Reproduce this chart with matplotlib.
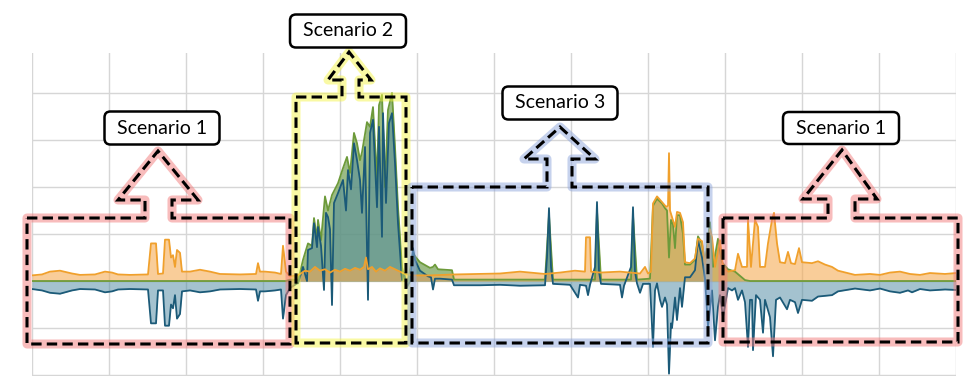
import numpy as np
import matplotlib.pyplot as plt
from matplotlib.patches import Polygon, FancyBboxPatch

# time axis in samples (one grid division = 77 samples), values in grid units
orange_t = [0, 10, 18, 28, 40, 48, 63, 73, 80, 86, 98, 116, 119, 124, 126, 131, 133, 137, 139, 141,
            143, 145, 148, 150, 158, 168, 178, 188, 208, 224, 226, 228, 233, 243, 249, 251, 254, 258, 265,
            268, 273, 278, 283, 288, 293, 298, 303, 308, 313, 318, 323, 328, 332, 334, 336, 340, 344, 348,
            353, 358, 363, 368, 373, 381, 398, 423, 448, 468, 488, 498, 513, 528, 543, 553, 554, 558, 559,
            568, 588, 608, 613, 616, 619, 621, 625, 630, 634, 636, 637, 638, 640, 643, 645, 648, 651, 653,
            658, 663, 666, 670, 673, 678, 680, 683, 688, 691, 696, 703, 706, 710, 715, 716, 719, 723, 726,
            728, 733, 736, 740, 742, 745, 748, 753, 756, 759, 763, 767, 770, 780, 786, 793, 800, 806, 823,
            838, 848, 858, 868, 878, 888, 898, 913, 924]
orange_v = [0.12, 0.14, 0.2, 0.22, 0.16, 0.13, 0.14, 0.2, 0.18, 0.14, 0.13, 0.14, 0.8, 0.8, 0.15, 0.16, 0.88, 0.88, 0.5, 0.55,
            0.3, 0.66, 0.6, 0.2, 0.2, 0.24, 0.2, 0.15, 0.14, 0.15, 0.38, 0.2, 0.2, 0.18, 0.15, 0.75, 0.2, 0.1, 0.12,
            0.15, 0.22, 0.2, 0.3, 0.22, 0.25, 0.18, 0.24, 0.2, 0.26, 0.22, 0.28, 0.24, 0.3, 0.5, 0.25, 0.3, 0.2, 0.27,
            0.22, 0.3, 0.25, 0.2, 0.15, 0.12, 0.12, 0.14, 0.15, 0.16, 0.2, 0.18, 0.15, 0.18, 0.22, 0.2, 0.93, 0.93, 0.2,
            0.18, 0.2, 0.16, 0.3, 0.16, 0.2, 1.65, 1.8, 1.68, 1.58, 1.6, 2.72, 1.5, 1.36, 1.15, 1.47, 1.45, 1.25, 0.4,
            0.38, 0.48, 0.9, 0.85, 0.35, 1.1, 0.93, 0.3, 0.87, 0.3, 0.2, 0.23, 0.58, 0.3, 0.3, 1.3, 0.3, 1.3, 1.15,
            0.3, 0.3, 0.8, 1.3, 1.45, 0.8, 0.4, 0.38, 0.62, 0.38, 0.36, 0.7, 0.4, 0.38, 0.42, 0.35, 0.3, 0.22, 0.13,
            0.15, 0.13, 0.18, 0.2, 0.15, 0.13, 0.17, 0.15, 0.17]

teal_t = [0, 10, 18, 28, 40, 48, 63, 73, 80, 86, 98, 116, 119, 124, 126, 131, 133, 137, 139, 141,
          143, 145, 148, 150, 158, 168, 178, 188, 208, 224, 226, 228, 233, 243, 249, 251, 254, 258, 265,
          266, 271, 275, 276, 280, 282, 285, 286, 289, 292, 294, 296, 298, 300, 302, 306, 311, 314, 316,
          319, 322, 325, 328, 330, 333, 336, 338, 341, 345, 347, 350, 351, 354, 357, 360, 363, 366, 370,
          372, 375, 378, 381, 383, 388, 396, 399, 401, 403, 408, 420, 422, 448, 468, 488, 513, 515, 517,
          519, 521, 538, 546, 548, 554, 556, 558, 563, 565, 567, 569, 588, 590, 592, 599, 601, 603, 605,
          608, 611, 618, 621, 623, 625, 628, 630, 633, 635, 637, 639, 640, 643, 645, 648, 650, 653, 658,
          663, 666, 670, 673, 676, 680, 683, 686, 688, 691, 696, 700, 703, 706, 710, 713, 716, 718, 720,
          721, 724, 728, 731, 733, 738, 741, 744, 748, 755, 758, 763, 766, 770, 780, 786, 800, 806, 823,
          838, 848, 858, 868, 876, 880, 888, 898, 913, 924]
teal_v = [-0.17, -0.2, -0.25, -0.27, -0.2, -0.17, -0.18, -0.24, -0.22, -0.18, -0.17, -0.18, -0.9, -0.9, -0.2, -0.2, -0.95, -0.95, -0.5, -0.58,
          -0.3, -0.8, -0.7, -0.22, -0.2, -0.24, -0.22, -0.18, -0.17, -0.18, -0.42, -0.22, -0.22, -0.2, -0.18, -0.8, -0.3, -0.15, -0.05,
          -0.05, 0.3, 0.0, 0.66, 0.7, 1.23, 0.72, 1.15, 0.75, -0.19, 1.45, 1.36, 1.1, -0.51, 1.66, 1.87, 2.15, 1.5, 2.36,
          1.95, 2.93, 2.57, 2.15, 1.45, 2.85, -0.4, 3.15, 3.43, 1.57, 3.28, 0.94, 3.57, 1.66, 3.36, 3.57, 2.51, 1.23, 0.02,
          0.17, -0.13, 0.0, 0.7, 0.45, 0.22, 0.1, 0.08, -0.18, 0.05, 0.05, 0.03, -0.09, -0.09, -0.08, -0.1, -0.09, 0.5, 1.55,
          0.3, -0.06, -0.08, -0.35, -0.08, -0.1, -0.3, -0.08, 0.3, 1.68, 0.2, -0.06, -0.08, -0.35, -0.1, 0.3, 1.57, 0.2, -0.05,
          -0.25, -0.06, -0.06, -1.4, -0.2, -0.05, -0.4, -0.55, -0.35, -0.5, -1.97, -0.9, -1.0, -0.35, -0.83, -0.15, -0.55, 0.08, 0.08,
          0.23, 0.87, 0.5, 0.05, -0.98, -0.2, -1.26, -0.55, -0.3, -0.77, -0.15, -0.2, -0.15, -0.4, -0.2, -0.45, -1.4, -0.4, -0.4,
          -1.47, -0.3, -0.4, -1.1, -0.4, -0.77, -1.6, -0.4, -0.35, -0.6, -0.4, -0.45, -0.68, -0.4, -0.42, -0.33, -0.3, -0.22, -0.16,
          -0.2, -0.16, -0.22, -0.25, -0.2, -0.24, -0.17, -0.2, -0.18, -0.19]

green_t = [0, 254, 258, 265, 266, 271, 276, 280, 282, 285, 286, 289, 293, 296, 300, 306, 311, 315, 318, 322,
           325, 328, 330, 335, 338, 341, 345, 347, 350, 353, 356, 360, 363, 366, 370, 373, 376, 381, 384, 388,
           398, 401, 403, 406, 413, 420, 422, 513, 517, 521, 563, 565, 569, 599, 601, 605, 618, 621, 625, 630,
           633, 635, 637, 639, 641, 643, 645, 648, 651, 653, 658, 663, 666, 670, 673, 678, 681, 686, 690, 696,
           703, 713, 718, 924]
green_v = [0.0, 0.0, 0.03, 0.02, 0.0, 0.45, 0.8, 0.75, 1.34, 0.9, 1.3, 0.87, 1.8, 1.5, 1.83, 2.08, 2.4, 2.64, 2.3, 3.15,
           2.93, 2.57, 2.74, 3.38, 3.28, 3.7, 2.15, 3.74, 3.96, 2.0, 3.64, 4.0, 2.85, 1.57, 0.3, 0.0, 0.0, 0.6, 0.5, 0.4,
           0.28, 0.3, 0.35, 0.25, 0.24, 0.23, 0.03, 0.03, 1.4, 0.03, 0.03, 1.5, 0.03, 0.03, 1.4, 0.03, 0.05, 1.6, 1.75, 1.65,
           1.55, 1.5, 0.5, 1.3, 1.2, 0.7, 1.4, 1.4, 1.0, 0.35, 0.35, 0.45, 0.95, 0.8, 0.4, 1.25, 0.3, 0.9, 0.4, 0.25,
           0.2, 0.02, 0.0, 0.0]

fig = plt.figure(figsize=(9.77, 3.76), dpi=100)
ax = fig.add_axes([32 / 977, 0, 924 / 977, 323 / 376])

ax.fill_between(green_t, green_v, 0, color="#7aa45c", alpha=0.75, lw=0)
ax.fill_between(teal_t, teal_v, 0, color="#4a87a0", alpha=0.5, lw=0)
ax.fill_between(orange_t, orange_v, 0, color="#f5ac55", alpha=0.6, lw=0)
ax.plot(green_t, green_v, color="#6d9a3a", lw=1.3)
ax.plot(teal_t, teal_v, color="#1b5a78", lw=1.3)
ax.plot(orange_t, orange_v, color="#f0a02c", lw=1.3)

ax.set_xlim(0, 924)
ax.set_ylim(-2.02, 4.85)
ax.set_xticks(np.arange(0, 925, 77))
ax.set_yticks(np.arange(-2, 5))
ax.grid(True, color="#d6d6d6", lw=1)
ax.set_axisbelow(True)
ax.tick_params(length=0, labelbottom=False, labelleft=False)
for s in ax.spines.values():
    s.set_visible(False)

# annotation layer in pixel coordinates
ov = fig.add_axes([0, 0, 1, 1])
ov.set_xlim(0, 977)
ov.set_ylim(376, 0)
ov.axis("off")
ov.patch.set_alpha(0)


def arrow_box(x0, x1, y0, y1, sx0, sx1, hy, hx0, hx1, tip, glow):
    verts = [(x0, y0), (sx0, y0), (sx0, hy), (hx0, hy), tip, (hx1, hy),
             (sx1, hy), (sx1, y0), (x1, y0), (x1, y1), (x0, y1)]
    ov.add_patch(Polygon(verts, closed=True, fill=False, ec=glow, lw=6.5, alpha=0.5, joinstyle="round"))
    ov.add_patch(Polygon(verts, closed=True, fill=False, ec="black", lw=2.2,
                         linestyle=(0, (3.4, 1.7)), joinstyle="miter"))


def label(cx, cy, w, h, txt):
    ov.add_patch(FancyBboxPatch((cx - w / 2, cy - h / 2), w, h,
                                boxstyle="round,pad=0,rounding_size=6",
                                fc="white", ec="black", lw=1.8))
    ov.text(cx, cy, txt, ha="center", va="center", fontsize=14, family="Lato")


arrow_box(27, 290, 218, 344, 145, 172, 200, 118, 198, (158, 151), "#f27a7a")
arrow_box(296, 406, 97, 343, 342, 359, 80, 328, 371, (349, 52), "#f5f54a")
arrow_box(412, 708, 187, 343, 547, 572, 159, 524, 595, (560, 127), "#8ea6dc")
arrow_box(723, 958, 218, 342, 828, 855, 199, 803, 877, (842, 150), "#f27a7a")

label(162, 128, 115, 33, "Scenario 1")
label(348, 31, 116, 33, "Scenario 2")
label(560, 103, 115, 33, "Scenario 3")
label(841, 128, 116, 32, "Scenario 1")

fig.savefig("out.png", dpi=100)
